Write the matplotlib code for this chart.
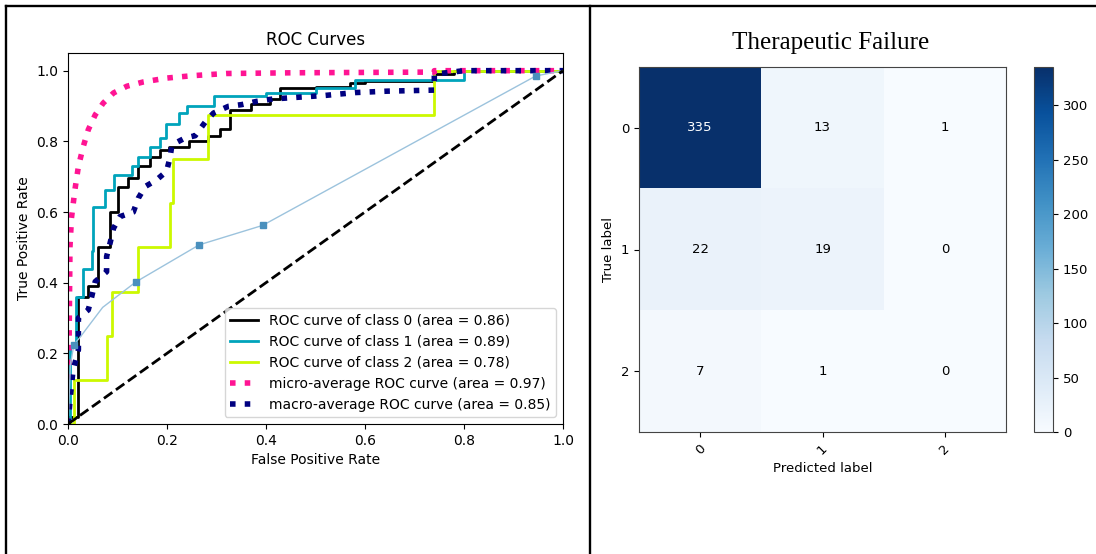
import numpy as np
import matplotlib
matplotlib.use("Agg")
import matplotlib.pyplot as plt
from matplotlib.lines import Line2D

# ---------------- data ----------------
fpr_class0 = [0, 0, 0.02, 0.02, 0.041, 0.041, 0.061, 0.061, 0.085, 0.085, 0.102, 0.102, 0.122, 0.122,
              0.142, 0.142, 0.165, 0.165, 0.185, 0.185, 0.205, 0.205, 0.245, 0.245, 0.283, 0.283,
              0.307, 0.307, 0.327, 0.327, 0.37, 0.37, 0.408, 0.408, 0.428, 0.428, 0.5, 0.5,
              0.57, 0.57, 0.6, 0.6, 0.74, 0.74, 0.78, 0.78, 1.0]
tpr_class0 = [0, 0.02, 0.02, 0.36, 0.36, 0.39, 0.39, 0.50, 0.50, 0.60, 0.60, 0.67, 0.67, 0.695,
              0.695, 0.73, 0.73, 0.757, 0.757, 0.776, 0.776, 0.785, 0.785, 0.80, 0.80, 0.815,
              0.815, 0.835, 0.835, 0.889, 0.889, 0.905, 0.905, 0.92, 0.92, 0.95, 0.95, 0.955,
              0.955, 0.965, 0.965, 0.97, 0.97, 0.99, 0.99, 1.0, 1.0]

fpr_class1 = [0, 0.005, 0.005, 0.016, 0.016, 0.030, 0.030, 0.048, 0.048, 0.051, 0.051, 0.075, 0.075,
              0.093, 0.093, 0.13, 0.13, 0.142, 0.142, 0.165, 0.165, 0.185, 0.185, 0.198, 0.198,
              0.225, 0.225, 0.24, 0.24, 0.294, 0.294, 0.40, 0.40, 0.5, 0.5, 0.58, 0.58, 0.80, 0.80, 1.0]
tpr_class1 = [0, 0, 0.22, 0.22, 0.36, 0.36, 0.44, 0.44, 0.49, 0.49, 0.615, 0.615, 0.663,
              0.663, 0.705, 0.705, 0.73, 0.73, 0.757, 0.757, 0.785, 0.785, 0.81, 0.81, 0.85,
              0.85, 0.88, 0.88, 0.90, 0.90, 0.927, 0.927, 0.937, 0.937, 0.951, 0.951, 0.975, 0.975, 1.0, 1.0]

fpr_class2 = [0, 0.012, 0.012, 0.078, 0.078, 0.089, 0.089, 0.142, 0.142, 0.206, 0.206, 0.212, 0.212,
              0.283, 0.283, 0.74, 0.74, 1.0]
tpr_class2 = [0, 0, 0.125, 0.125, 0.25, 0.25, 0.375, 0.375, 0.5, 0.5, 0.625, 0.625, 0.75,
              0.75, 0.875, 0.875, 1.0, 1.0]

fpr_micro = [0, 0.002, 0.004, 0.007, 0.014, 0.021, 0.031, 0.041, 0.055, 0.071, 0.092, 0.119, 0.152,
             0.199, 0.253, 0.32, 0.455, 0.74, 0.74, 1.0]
tpr_micro = [0, 0.2, 0.502, 0.583, 0.663, 0.729, 0.786, 0.833, 0.875, 0.908, 0.937, 0.956, 0.968,
             0.979, 0.986, 0.992, 0.994, 0.996, 1.0, 1.0]

fpr_macro = [0, 0.005, 0.01, 0.021, 0.021, 0.041, 0.048, 0.055, 0.078, 0.078, 0.085, 0.092, 0.105,
             0.132, 0.142, 0.156, 0.179, 0.199, 0.206, 0.21, 0.236, 0.257, 0.277, 0.294, 0.324,
             0.351, 0.381, 0.415, 0.52, 0.58, 0.645, 0.74, 0.74, 0.80, 1.0]
tpr_macro = [0, 0.08, 0.15, 0.21, 0.30, 0.323, 0.361, 0.403, 0.431, 0.474, 0.512, 0.554, 0.587,
             0.600, 0.639, 0.672, 0.691, 0.715, 0.753, 0.79, 0.809, 0.816, 0.854, 0.880, 0.899,
             0.904, 0.913, 0.920, 0.93, 0.938, 0.942, 0.945, 0.99, 1.0, 1.0]

fpr_extra = [0.0, 0.005, 0.012, 0.024, 0.07, 0.137, 0.265, 0.393, 0.945, 1.0]
tpr_extra = [0.0, 0.17, 0.225, 0.245, 0.33, 0.402, 0.507, 0.562, 0.985, 1.0]
extra_marked = [2, 5, 6, 7, 8]

class_auc = [0.86, 0.89, 0.78]
micro_auc = 0.97
macro_auc = 0.85

cm_classes = ["0", "1", "2"]
cm_values = [[335, 13, 1],
             [22, 19, 0],
             [7, 1, 0]]
cbar_ticks = [0, 50, 100, 150, 200, 250, 300]

# ---------------- figure ----------------
W, H = 1096, 554
fig = plt.figure(figsize=(W / 100, H / 100), dpi=100)
fig.patch.set_facecolor("white")


def px_axes(l, t, r, b):
    return fig.add_axes([l / W, 1 - b / H, (r - l) / W, (b - t) / H])


# ROC panel
ax = px_axes(68, 53, 563, 424)
cmap = plt.cm.nipy_spectral
curves = [(fpr_class0, tpr_class0), (fpr_class1, tpr_class1), (fpr_class2, tpr_class2)]
for i, (f, t) in enumerate(curves):
    ax.plot(f, t, lw=2, color=cmap(float(i) / len(curves)),
            label="ROC curve of class {0} (area = {1:0.2f})".format(i, class_auc[i]))
ax.plot(fpr_micro, tpr_micro, label="micro-average ROC curve (area = {0:0.2f})".format(micro_auc),
        color="deeppink", linestyle=":", linewidth=4)
ax.plot(fpr_macro, tpr_macro, label="macro-average ROC curve (area = {0:0.2f})".format(macro_auc),
        color="navy", linestyle=":", linewidth=4)
ax.plot(fpr_extra, tpr_extra, color="#9cc3dd", lw=1, marker="s", ms=4,
        markevery=extra_marked, mfc="#4a90bd", mec="#4a90bd")
ax.plot([0, 1], [0, 1], "k--", lw=2)
ax.set_xlim([0.0, 1.0])
ax.set_ylim([0.0, 1.05])
ax.set_title("ROC Curves", fontsize="large")
ax.set_xlabel("False Positive Rate", fontsize="medium")
ax.set_ylabel("True Positive Rate", fontsize="medium")
ax.tick_params(labelsize="medium")
ax.legend(loc="lower right", fontsize="medium")

# Confusion matrix panel
cm = np.array(cm_values)
axc = px_axes(639, 67, 1006, 432)
im = axc.imshow(cm, interpolation="nearest", cmap=plt.cm.Blues, aspect="auto", vmin=0, vmax=cm.max())
ticks = np.arange(len(cm_classes))
axc.set_xticks(ticks)
axc.set_xticklabels(cm_classes, rotation=45, fontsize=9.5)
axc.set_yticks(ticks)
axc.set_yticklabels(cm_classes, fontsize=9.5)
thresh = cm.max() / 2.0
for i in range(cm.shape[0]):
    for j in range(cm.shape[1]):
        axc.text(j, i, format(cm[i, j], "d"), ha="center", va="center", fontsize=9.5,
                 color="white" if cm[i, j] > thresh else "black")
axc.set_xlabel("Predicted label", fontsize=9.5)
axc.set_ylabel("True label", fontsize=9.5)
for s in axc.spines.values():
    s.set_color("#444444")

cax = px_axes(1034, 67, 1053, 432)
cb = fig.colorbar(im, cax=cax, ticks=cbar_ticks)
cb.ax.tick_params(labelsize=9.5)
cb.outline.set_edgecolor("#444444")

fig.text(831 / W, 1 - 49 / H, "Therapeutic Failure", ha="center", va="baseline",
         fontsize=18, family="Liberation Serif")

# table borders
lw = 1.7
fig.add_artist(Line2D([6 / W, 6 / W], [0, 1 - 6 / H], transform=fig.transFigure, color="black", lw=lw))
fig.add_artist(Line2D([6 / W, 1], [1 - 6 / H, 1 - 6 / H], transform=fig.transFigure, color="black", lw=lw))
fig.add_artist(Line2D([590 / W, 590 / W], [0, 1 - 6 / H], transform=fig.transFigure, color="black", lw=lw))

fig.savefig("out.png", dpi=100)
